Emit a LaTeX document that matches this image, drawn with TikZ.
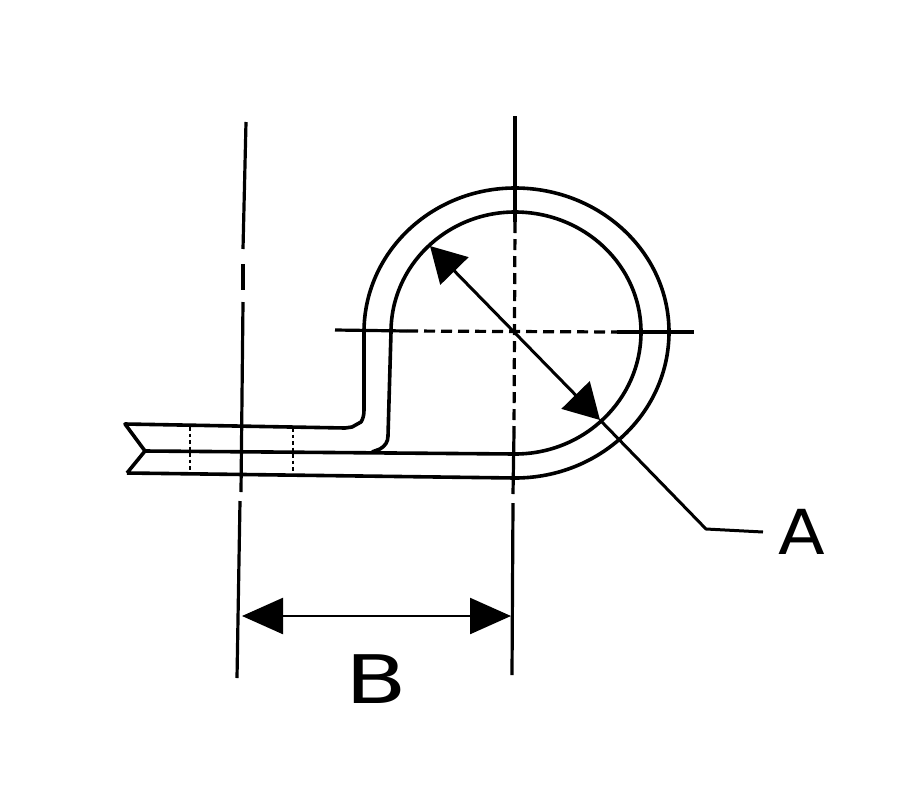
\documentclass[tikz,border=0pt]{standalone}
\usepackage{fontspec}
\setmainfont{DejaVu Sans}
\usetikzlibrary{arrows.meta}

\tikzset{
  clipline/.style={line width=3.6pt,line join=round},
  axisline/.style={line width=3.2pt},
  axisdash/.style={line width=3.2pt,dash pattern=on 11pt off 6pt},
  hiddenline/.style={line width=1.8pt,dash pattern=on 3.5pt off 3pt},
  dimline/.style={line width=2.4pt,{Triangle[length=41pt,width=36pt]}-{Triangle[length=41pt,width=36pt]}},
  dialine/.style={line width=3pt,{Triangle[length=35pt,width=39pt]}-{Triangle[length=35pt,width=39pt]}},
  leaderline/.style={line width=3pt,line join=round},
  dimlabel/.style={inner sep=0pt,font=\fontsize{62}{62}\selectfont}
}

\begin{document}
\begin{tikzpicture}[x=1pt,y=-1pt]

        \useasboundingbox (0,0) rectangle (905,793);

        \begin{scope}
          \coordinate (o1) at (125,424);
          \coordinate (o2) at (145,451);
          \coordinate (o3) at (127,473);
          \coordinate (o4) at (345,428);
          \coordinate (o5) at (364,410);
          \coordinate (o6) at (364,332);
          \coordinate (i1) at (372,452);
          \coordinate (i2) at (388,436);
          \coordinate (i3) at (391,332);
          \coordinate (b1) at (515,478);
          \coordinate (b2) at (515,454);
        \end{scope}

        % clip outline
        \draw[clipline] (o3) -- (o2) -- (o1) -- (o4)
          -- (352,427) -- (361,422) .. controls (363,419) and (364,415) .. (o5) -- (o6)
          arc[start angle=180,end angle=90,x radius=151pt,y radius=144pt]
          arc[start angle=90,end angle=0,x radius=154pt,y radius=144pt]
          arc[start angle=0,end angle=-90,x radius=154pt,y radius=146pt]
          -- (o3);
        \draw[clipline] (i1) -- (380,449) .. controls (385,446) and (388,442) .. (i2) -- (i3)
          arc[start angle=180,end angle=90,x radius=124pt,y radius=120pt]
          arc[start angle=90,end angle=0,x radius=126pt,y radius=120pt]
          arc[start angle=0,end angle=-90,x radius=126pt,y radius=122pt]
          -- (o2);

        % hole edges
        \coordinate (h1) at (190,427);
        \coordinate (h2) at (190,473);
        \coordinate (h3) at (293,428);
        \coordinate (h4) at (293,475);
        \draw[hiddenline] (h1) -- (h2);
        \draw[hiddenline] (h3) -- (h4);

        % left axis
        \coordinate (l1) at (246,122);
        \coordinate (l2) at (243,249);
        \coordinate (l3) at (243,264);
        \coordinate (l4) at (243,290);
        \coordinate (l5) at (243,302);
        \coordinate (l6) at (241,492);
        \coordinate (l7) at (240,501);
        \coordinate (l8) at (237,678);
        \draw[axisline] (l1) -- (l2);
        \draw[axisline] (l3) -- (l4);
        \draw[axisline] (l5) -- (l6);
        \draw[axisline] (l7) -- (l8);

        % right axis
        \coordinate (r1) at (515,116);
        \coordinate (r2) at (515,222);
        \coordinate (r3) at (514,432);
        \coordinate (r4) at (513,494);
        \coordinate (r5) at (513,503);
        \coordinate (r6) at (512,675);
        \draw[axisline] (r1) -- (r2);
        \draw[axisdash] (r2) -- (r3);
        \draw[axisline] (r3) -- (r4);
        \draw[axisline] (r5) -- (r6);

        % centre line
        \coordinate (c1) at (335,330);
        \coordinate (c2) at (407,331);
        \coordinate (c3) at (617,332);
        \coordinate (c4) at (694,332);
        \draw[axisline] (c1) -- (c2);
        \draw[axisdash] (c2) -- (c3);
        \draw[axisline] (c3) -- (c4);

        % dimensions
        \coordinate (a1) at (430,246);
        \coordinate (a2) at (600,420);
        \coordinate (a3) at (706,529);
        \coordinate (a4) at (763,532);
        \coordinate (d1) at (242,616);
        \coordinate (d2) at (511,616);
        \draw[dialine] (a1) -- (a2);
        \draw[leaderline] (a2) -- (a3) -- (a4);
        \draw[dimline] (d1) -- (d2);

        \node[dimlabel,xscale=1.1] (A) at (802,532) {A};
        \node[dimlabel,xscale=1.45,yscale=1.08] (B) at (376,679) {B};

      \end{tikzpicture}
\end{document}
